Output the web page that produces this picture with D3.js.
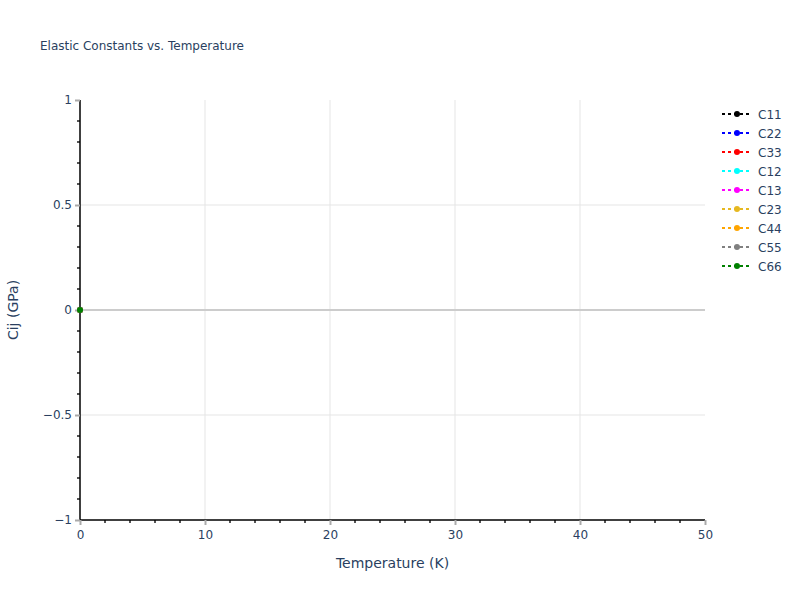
<!DOCTYPE html>
<html>
<head>
<meta charset="utf-8">
<script src="https://cdn.jsdelivr.net/npm/d3@7"></script>
<style>
  body { margin: 0; background: #fff; }
  text { font-family: "DejaVu Sans", Verdana, sans-serif; fill: #2a3f5f; }
</style>
</head>
<body>
<div id="chart"></div>
<script>
// data: one sample at T = 0, every constant is 0
var temperature = [0];
var seriesNames = ["C11", "C22", "C33", "C12", "C13", "C23", "C44", "C55", "C66"];
var seriesColors = ["black", "blue", "red", "cyan", "magenta", "#e6b820", "orange", "gray", "green"];
var seriesValues = [[0], [0], [0], [0], [0], [0], [0], [0], [0]];
var xTicks = [0, 10, 20, 30, 40, 50];
var yTicks = [-1, -0.5, 0, 0.5, 1];

var width = 800, height = 600;
var margin = {left: 80, right: 95, top: 100, bottom: 80};

var svg = d3.select("#chart").append("svg")
    .attr("width", width)
    .attr("height", height);

var x = d3.scaleLinear().domain([0, 50]).range([margin.left, width - margin.right]);
var y = d3.scaleLinear().domain([-1, 1]).range([height - margin.bottom, margin.top]);

// grid (not on the plot edges)
svg.append("g").selectAll("line")
    .data(xTicks.filter(function(d) { return d != 0 && d != 50; }))
    .enter().append("line")
    .attr("x1", function(d) { return x(d); })
    .attr("x2", function(d) { return x(d); })
    .attr("y1", y(1)).attr("y2", y(-1))
    .style("stroke", "#e5e5e5");

svg.append("g").selectAll("line")
    .data(yTicks.filter(function(d) { return d != -1 && d != 1; }))
    .enter().append("line")
    .attr("x1", x(0)).attr("x2", x(50))
    .attr("y1", function(d) { return y(d); })
    .attr("y2", function(d) { return y(d); })
    .style("stroke", function(d) { return d == 0 ? "#cccccc" : "#e5e5e5"; })
    .style("stroke-width", function(d) { return d == 0 ? 2 : 1; });

// minor ticks
svg.append("g").selectAll("line")
    .data(d3.range(0, 51, 2).filter(function(d) { return d % 10 != 0; }))
    .enter().append("line")
    .attr("x1", function(d) { return x(d); })
    .attr("x2", function(d) { return x(d); })
    .attr("y1", y(-1)).attr("y2", y(-1) + 3)
    .style("stroke", "#555").style("stroke-width", 2);

svg.append("g").selectAll("line")
    .data(d3.range(-10, 11).filter(function(d) { return d % 5 != 0; }))
    .enter().append("line")
    .attr("x1", x(0) - 3).attr("x2", x(0))
    .attr("y1", function(d) { return y(d / 10); })
    .attr("y2", function(d) { return y(d / 10); })
    .style("stroke", "#555").style("stroke-width", 2);

// axes
var xAxis = svg.append("g")
    .attr("transform", "translate(0," + y(-1) + ")")
    .call(d3.axisBottom(x).tickValues(xTicks).tickSize(5).tickPadding(5));
var yAxis = svg.append("g")
    .attr("transform", "translate(" + x(0) + ",0)")
    .call(d3.axisLeft(y).tickValues(yTicks).tickSize(5).tickPadding(3)
        .tickFormat(function(d) { return d == 0 ? "0" : d3.format("")(d).replace("-", "\u2212"); }));

[xAxis, yAxis].forEach(function(a) {
    a.select(".domain").style("stroke", "#000").style("stroke-width", 1.5);
    a.selectAll(".tick line").style("stroke", "#aaa").style("stroke-width", 2);
    a.selectAll(".tick text").style("font-size", "12px").style("fill", "#2a3f5f");
});
yAxis.select(".domain").attr("d", "M0," + y(1) + "V" + y(-1));
xAxis.select(".domain").attr("d", "M" + x(0) + ",0H" + x(50));

// series
seriesNames.forEach(function(name, i) {
    var pts = temperature.map(function(t, j) { return [t, seriesValues[i][j]]; });
    svg.append("path")
        .datum(pts)
        .attr("d", d3.line().x(function(d) { return x(d[0]); }).y(function(d) { return y(d[1]); }))
        .style("fill", "none")
        .style("stroke", seriesColors[i])
        .style("stroke-width", 2)
        .style("stroke-dasharray", "3,3");
    svg.append("g").selectAll("circle")
        .data(pts)
        .enter().append("circle")
        .attr("cx", function(d) { return x(d[0]); })
        .attr("cy", function(d) { return y(d[1]); })
        .attr("r", 3)
        .style("fill", seriesColors[i]);
});

// titles
svg.append("text")
    .attr("x", 40).attr("y", 50)
    .style("font-size", "12px")
    .text("Elastic Constants vs. Temperature");

svg.append("text")
    .attr("x", (x(0) + x(50)) / 2).attr("y", 568)
    .attr("text-anchor", "middle")
    .style("font-size", "14px")
    .text("Temperature (K)");

svg.append("text")
    .attr("transform", "translate(18," + y(0) + ") rotate(-90)")
    .attr("text-anchor", "middle")
    .style("font-size", "14px")
    .text("Cij (GPa)");

// legend
var legend = svg.append("g").attr("transform", "translate(722,114)");
var item = legend.selectAll("g")
    .data(seriesNames)
    .enter().append("g")
    .attr("transform", function(d, i) { return "translate(0," + (i * 19) + ")"; });
item.append("line")
    .attr("x1", 0).attr("x2", 28).attr("y1", 0).attr("y2", 0)
    .style("stroke", function(d, i) { return seriesColors[i]; })
    .style("stroke-width", 2)
    .style("stroke-dasharray", "3,3");
item.append("circle")
    .attr("cx", 15).attr("cy", 0).attr("r", 3)
    .style("fill", function(d, i) { return seriesColors[i]; });
item.append("text")
    .attr("x", 36).attr("y", 4.5)
    .style("font-size", "12px")
    .text(function(d) { return d; });
</script>
</body>
</html>
